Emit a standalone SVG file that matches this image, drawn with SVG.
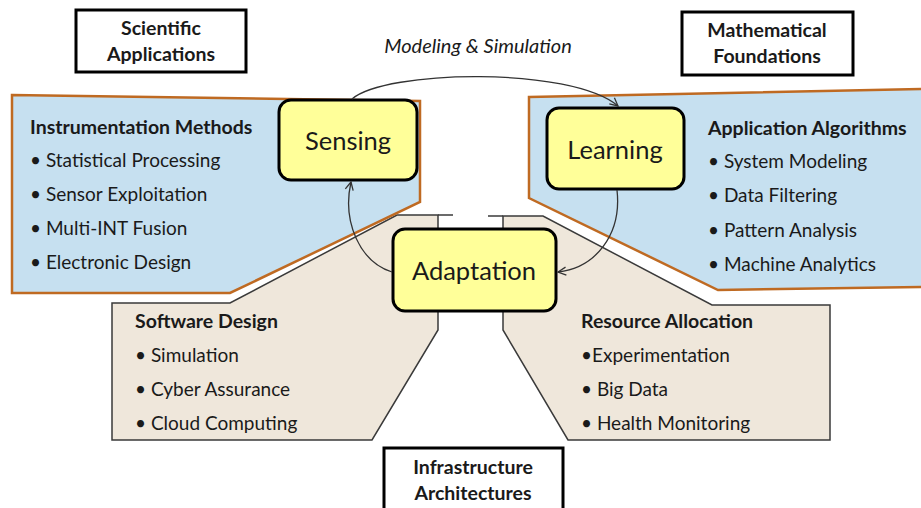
<svg xmlns="http://www.w3.org/2000/svg" width="921" height="508" viewBox="0 0 921 508">
<style>
 .blue{fill:#C6E0F0;stroke:#BF6A22;stroke-width:2.5;stroke-linejoin:miter}
 .tan{fill:#EFE7DB;stroke:#3a3a3a;stroke-width:1.5;stroke-linejoin:miter}
 .tanline{fill:none;stroke:#3a3a3a;stroke-width:1.5}
 .node{fill:#FFFF99;stroke:#000;stroke-width:3}
 .box{fill:#fff;stroke:#000;stroke-width:3}
 text{font-family:Lato,"Open Sans",sans-serif;fill:#1a1a1a}
 .h{font-weight:bold;font-size:19.5px}
 .li{font-size:19px}
 .nl{font-size:25.5px;text-anchor:middle}
 .bt{font-weight:bold;font-size:19.5px;text-anchor:middle}
 .it{font-style:italic;font-size:20px;text-anchor:middle}
 .conn{fill:none;stroke:#333;stroke-width:1.3}
</style>
<defs>
 <marker id="arr" markerWidth="12" markerHeight="12" refX="9" refY="5" orient="auto" markerUnits="userSpaceOnUse">
  <path d="M1,1 L9,5 L1,9" fill="none" stroke="#333" stroke-width="1.3"/>
 </marker>
</defs>

<g id="software-design">
 <polygon class="tan" points="112,303 230,303 397,215 438,215 438,330 372,440 112,440"/>
 <line class="tanline" x1="438" y1="215" x2="453" y2="215"/>
 <text class="h" x="135" y="328">Software Design</text>
 <text class="li" x="135" y="362">• Simulation</text>
 <text class="li" x="135" y="396">• Cyber Assurance</text>
 <text class="li" x="135" y="430">• Cloud Computing</text>
</g>

<g id="resource-allocation">
 <polygon class="tan" points="503,216 543,216 712,305 830,305 830,440 568,440 503,330"/>
 <line class="tanline" x1="488" y1="216" x2="503" y2="216"/>
 <text class="h" x="581" y="328">Resource Allocation</text>
 <text class="li" x="581" y="362">•Experimentation</text>
 <text class="li" x="581" y="396">• Big Data</text>
 <text class="li" x="581" y="430">• Health Monitoring</text>
</g>

<g id="instrumentation-methods">
 <polygon class="blue" points="12,95 420,101 420,202 230,293 12,293"/>
 <text class="h" x="30" y="134">Instrumentation Methods</text>
 <text class="li" x="30" y="167">• Statistical Processing</text>
 <text class="li" x="30" y="201">• Sensor Exploitation</text>
 <text class="li" x="30" y="235">• Multi-INT Fusion</text>
 <text class="li" x="30" y="269">• Electronic Design</text>
</g>

<g id="application-algorithms">
 <polygon class="blue" points="529,97 925,89 925,287 718,290 529,198"/>
 <text class="h" x="708" y="135">Application Algorithms</text>
 <text class="li" x="708" y="168">• System Modeling</text>
 <text class="li" x="708" y="202">• Data Filtering</text>
 <text class="li" x="708" y="237">• Pattern Analysis</text>
 <text class="li" x="708" y="271">• Machine Analytics</text>
</g>

<g id="scientific-applications">
 <rect class="box" x="76" y="10" width="170" height="62"/>
 <text class="bt" x="161" y="35">Scientific</text>
 <text class="bt" x="161" y="61">Applications</text>
</g>

<g id="mathematical-foundations">
 <rect class="box" x="682" y="12" width="171" height="63"/>
 <text class="bt" x="767" y="37">Mathematical</text>
 <text class="bt" x="767" y="63">Foundations</text>
</g>

<g id="infrastructure-architectures">
 <rect class="box" x="384" y="448" width="179" height="70"/>
 <text class="bt" x="473" y="474">Infrastructure</text>
 <text class="bt" x="473" y="500">Architectures</text>
</g>

<g id="sensing">
 <rect class="node" x="279" y="100" width="138" height="80" rx="12"/>
 <text class="nl" x="348" y="150">Sensing</text>
</g>

<g id="learning">
 <rect class="node" x="547" y="108" width="137" height="81" rx="12"/>
 <text class="nl" x="615" y="159">Learning</text>
</g>

<g id="adaptation">
 <rect class="node" x="393" y="229" width="163" height="82" rx="12"/>
 <text class="nl" x="474" y="280">Adaptation</text>
</g>

<g id="connectors">
 <path class="conn" d="M352,99 C385,70 570,66 618,106" marker-end="url(#arr)"/>
 <path class="conn" d="M392,272 C360,262 342,222 351,182" marker-end="url(#arr)"/>
 <path class="conn" d="M617,190 C622,235 595,268 558,272" marker-end="url(#arr)"/>
 <text class="it" x="478" y="53">Modeling &amp; Simulation</text>
</g>
</svg>
